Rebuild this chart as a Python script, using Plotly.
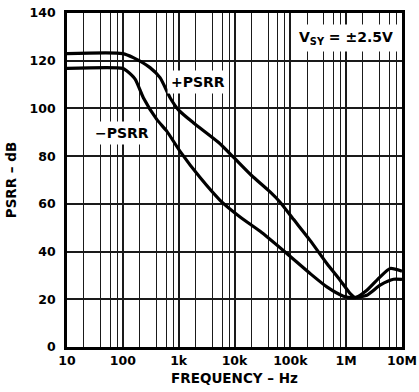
import plotly.graph_objects as go

# Frequency points (Hz) and rejection values (dB) for each supply rail
freq_pos = [10, 100, 154, 307, 464, 702, 1000, 1830, 5140, 9550, 20000, 43400,
            65600, 114000, 226000, 451000, 780000, 1180000, 1450000, 2350000,
            4060000, 6150000, 10000000]
psrr_pos = [123.0, 123.0, 121.3, 117.1, 112.9, 104.5, 99.3, 94.0, 85.8, 79.6,
            72.0, 65.0, 60.7, 53.5, 44.7, 35.0, 28.0, 22.4, 20.7, 23.8,
            29.4, 32.9, 31.8]

freq_neg = [10, 100, 117, 166, 233, 405, 612, 1060, 2420, 5520, 12600, 28800,
            86500, 226000, 451000, 895000, 1350000, 2350000, 4060000, 7050000,
            10000000]
psrr_neg = [116.8, 116.8, 115.8, 112.3, 104.5, 95.4, 90.5, 82.0, 71.0, 61.5,
            54.5, 48.5, 39.2, 30.8, 25.2, 21.3, 20.7, 21.7, 25.9, 28.4, 28.3]

x_tickvals = [10, 100, 1e3, 1e4, 1e5, 1e6, 1e7]
x_ticktext = ["10", "100", "1k", "10k", "100k", "1M", "10M"]
x_minor = [m * 10 ** k for k in range(1, 7) for m in (2, 4, 6, 8)]
y_tickvals = list(range(0, 141, 20))

FONT = "DejaVu Sans, Liberation Sans, sans-serif"
LINE = dict(color="black", width=3.2, shape="spline", smoothing=0.6)

fig = go.Figure()
fig.add_trace(go.Scatter(x=freq_pos, y=psrr_pos, mode="lines", line=LINE,
                         name="+PSRR", showlegend=False))
fig.add_trace(go.Scatter(x=freq_neg, y=psrr_neg, mode="lines", line=LINE,
                         name="−PSRR", showlegend=False))

fig.update_layout(
    width=419, height=392,
    margin=dict(l=67, r=17, t=13, b=45),
    paper_bgcolor="white", plot_bgcolor="white",
    font=dict(family=FONT, size=12.5, color="black"),
)

fig.update_xaxes(
    type="log", range=[1, 7], automargin=False,
    tickvals=x_tickvals, ticktext=[f"<b>{t}</b>" for t in x_ticktext],
    showgrid=True, gridcolor="#1a1a1a", gridwidth=2.2,
    minor=dict(tickvals=x_minor, showgrid=True, gridcolor="#1a1a1a",
               gridwidth=1.4, ticks=""),
    showline=True, linecolor="black", linewidth=2.6, mirror=True,
    ticks="", zeroline=False,
    title=dict(text="<b>FREQUENCY – Hz</b>", standoff=7, font=dict(size=13.5)),
    tickfont=dict(size=12.5),
)
fig.update_yaxes(
    range=[0, 140], tickvals=y_tickvals, automargin=False,
    ticktext=[f"<b>{v}</b>" for v in y_tickvals],
    showgrid=True, gridcolor="#1a1a1a", gridwidth=1.5,
    showline=True, linecolor="black", linewidth=2.6, mirror=True,
    ticks="outside", ticklen=6, tickcolor="white", zeroline=False,
    title=dict(text="<b>PSRR – dB</b>", standoff=10, font=dict(size=13.5)),
    tickfont=dict(size=12.5),
)

label_font = dict(size=14)
fig.add_annotation(x=0.392, y=0.792, xref="paper", yref="paper",
                   xanchor="center", yanchor="middle",
                   text="<b>+PSRR</b>", showarrow=False, bgcolor="white",
                   borderpad=3, font=label_font)
fig.add_annotation(x=0.163, y=0.640, xref="paper", yref="paper",
                   xanchor="center", yanchor="middle",
                   text="<b>−PSRR</b>", showarrow=False, bgcolor="white",
                   borderpad=3, font=label_font)
fig.add_annotation(x=0.832, y=0.926, xref="paper", yref="paper",
                   xanchor="center", yanchor="middle",
                   text="<b>V<sub>SY</sub> = ±2.5V</b>", showarrow=False,
                   bgcolor="white", borderpad=4, font=label_font)

fig.write_html("out.html")
